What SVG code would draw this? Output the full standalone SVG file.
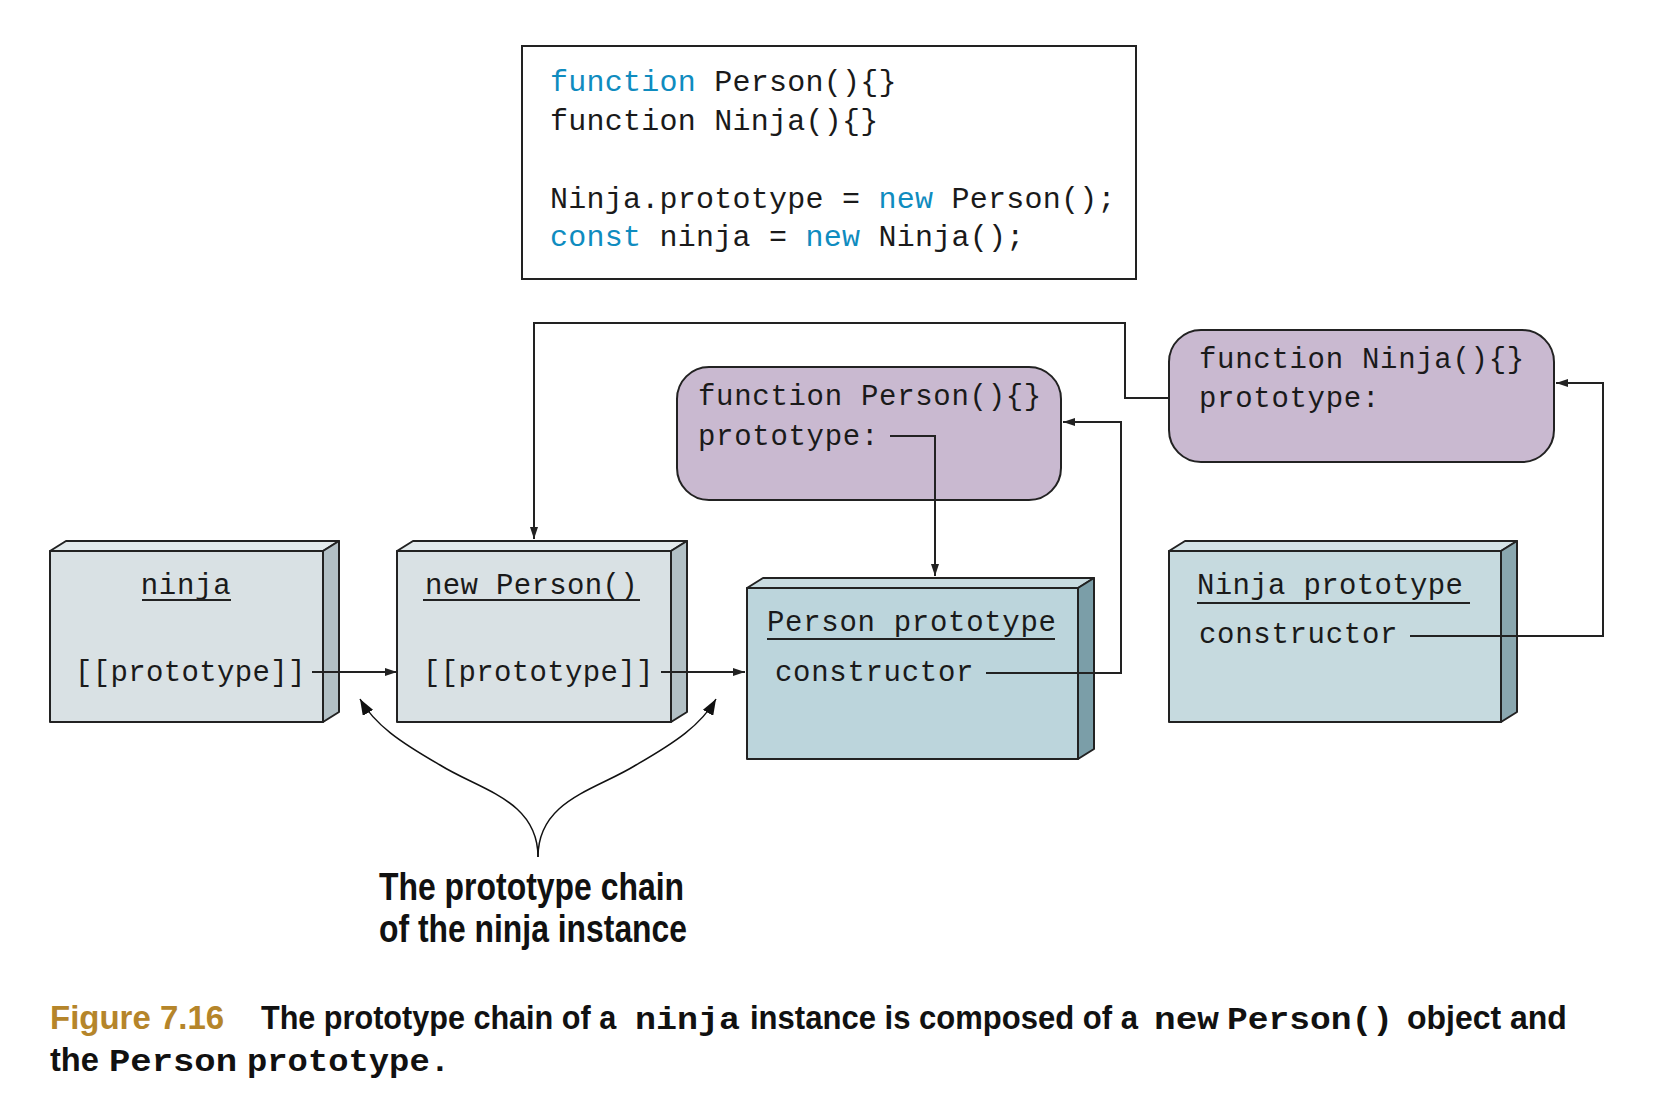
<svg xmlns="http://www.w3.org/2000/svg" width="1670" height="1096" viewBox="0 0 1670 1096">
<style>
.mono{font-family:"Liberation Mono","DejaVu Sans Mono",monospace;font-size:29px;letter-spacing:0.7px;fill:#1a1a1a}
.code{font-size:30px;letter-spacing:0.25px}
.br{letter-spacing:0.35px}
.kw{fill:#0f8cbf}
.ln{fill:none;stroke:#222;stroke-width:2}
.box{stroke:#222;stroke-width:2;stroke-linejoin:round}
.fn{fill:#c9b9d0;stroke:#222;stroke-width:2}
.cap{font-family:"Liberation Sans",Arial,sans-serif;font-weight:bold;font-size:34px;fill:#111}
.capm{font-family:"Liberation Mono",monospace;font-weight:bold;font-size:32px;fill:#111}
.lbl{font-family:"Liberation Sans",Arial,sans-serif;font-weight:bold;font-size:38px;fill:#111}
</style>
<defs>
<marker id="ah" viewBox="0 0 12 8" refX="12" refY="4" markerWidth="12" markerHeight="8" markerUnits="userSpaceOnUse" orient="auto">
<path d="M0,0 L12,4 L0,8 Z" fill="#222"/>
</marker>
<marker id="ah2" viewBox="0 0 16 12" refX="16" refY="6" markerWidth="16" markerHeight="12" markerUnits="userSpaceOnUse" orient="auto">
<path d="M0,0 L16,6 L0,12 Z" fill="#111"/>
</marker>
</defs>
<rect width="1670" height="1096" fill="#fff"/>

<g id="code">
<rect x="522" y="46" width="614" height="233" fill="#fff" stroke="#222" stroke-width="2"/>
<text class="mono code" x="550" y="91"><tspan class="kw">function</tspan> Person(){}</text>
<text class="mono code" x="550" y="130">function Ninja(){}</text>
<text class="mono code" x="550" y="208">Ninja.prototype = <tspan class="kw">new</tspan> Person();</text>
<text class="mono code" x="550" y="246"><tspan class="kw">const</tspan> ninja = <tspan class="kw">new</tspan> Ninja();</text>
</g>

<g id="ninja">
<polygon class="box" points="50,551 66,541 339,541 323,551" fill="#e3eaec"/>
<polygon class="box" points="323,551 339,541 339,712 323,722" fill="#b2c0c5"/>
<rect class="box" x="50" y="551" width="273" height="171" fill="#d9e1e4"/>
<text class="mono" x="186" y="594" text-anchor="middle">ninja</text>
<line x1="142" y1="600" x2="231" y2="600" stroke="#222" stroke-width="2"/>
<text class="mono br" x="75" y="681">[[prototype]]</text>
</g>

<g id="newPerson">
<polygon class="box" points="397,551 413,541 687,541 671,551" fill="#e3eaec"/>
<polygon class="box" points="671,551 687,541 687,712 671,722" fill="#b2c0c5"/>
<rect class="box" x="397" y="551" width="274" height="171" fill="#d9e1e4"/>
<text class="mono br" x="425" y="594">new Person()</text>
<line x1="423" y1="600" x2="640" y2="600" stroke="#222" stroke-width="2"/>
<text class="mono br" x="423" y="681">[[prototype]]</text>
</g>

<g id="personProto">
<polygon class="box" points="747,588 763,578 1094,578 1078,588" fill="#c8dbe0"/>
<polygon class="box" points="1078,588 1094,578 1094,749 1078,759" fill="#7b9ea8"/>
<rect class="box" x="747" y="588" width="331" height="171" fill="#bcd5dc"/>
<text class="mono" x="767" y="631">Person prototype</text>
<line x1="767" y1="639" x2="1055" y2="639" stroke="#222" stroke-width="2"/>
<text class="mono" x="775" y="681">constructor</text>
</g>

<g id="ninjaProto">
<polygon class="box" points="1169,551 1185,541 1517,541 1501,551" fill="#d4e3e7"/>
<polygon class="box" points="1501,551 1517,541 1517,712 1501,722" fill="#8aa7af"/>
<rect class="box" x="1169" y="551" width="332" height="171" fill="#c6dadf"/>
<text class="mono br" x="1197" y="594">Ninja prototype</text>
<line x1="1197" y1="603" x2="1470" y2="603" stroke="#222" stroke-width="2"/>
<text class="mono" x="1199" y="643">constructor</text>
</g>

<g id="personFn">
<rect class="fn" x="677" y="367" width="384" height="133" rx="32"/>
<text class="mono" x="698" y="405">function Person(){}</text>
<text class="mono" x="698" y="445">prototype:</text>
</g>

<g id="ninjaFn">
<rect class="fn" x="1169" y="330" width="385" height="132" rx="32"/>
<text class="mono" x="1199" y="368">function Ninja(){}</text>
<text class="mono" x="1199" y="407">prototype:</text>
</g>

<g id="connectors">
<line class="ln" x1="312" y1="672" x2="397" y2="672" marker-end="url(#ah)"/>
<line class="ln" x1="661" y1="672" x2="745" y2="672" marker-end="url(#ah)"/>
<polyline class="ln" points="890,436 935,436 935,576" marker-end="url(#ah)"/>
<polyline class="ln" points="986,673 1121,673 1121,422 1063,422" marker-end="url(#ah)"/>
<polyline class="ln" points="1410,636 1603,636 1603,383 1556,383" marker-end="url(#ah)"/>
<polyline class="ln" points="1169,398 1125,398 1125,323 534,323 534,539" marker-end="url(#ah)"/>
<path d="M538,857 C538,800 480,790 440,765 C400,742 375,725 360,699" fill="none" stroke="#111" stroke-width="1.5" marker-end="url(#ah2)"/>
<path d="M538,857 C538,800 596,790 636,765 C676,742 701,725 716,699" fill="none" stroke="#111" stroke-width="1.5" marker-end="url(#ah2)"/>
</g>

<g id="label">
<text class="lbl" x="379" y="900" textLength="305" lengthAdjust="spacingAndGlyphs">The prototype chain</text>
<text class="lbl" x="379" y="942" textLength="308" lengthAdjust="spacingAndGlyphs">of the ninja instance</text>
</g>

<g id="caption">
<text class="cap" transform="translate(50 1029) scale(0.97 1)" style="fill:#b5852a">Figure 7.16</text>
<text class="cap" transform="translate(261 1029) scale(0.9 1)">The prototype chain of a</text>
<text class="capm" x="635" y="1029" textLength="105" lengthAdjust="spacingAndGlyphs">ninja</text>
<text class="cap" transform="translate(750 1029) scale(0.913 1)">instance is composed of a</text>
<text class="capm" x="1154" y="1029" textLength="65" lengthAdjust="spacingAndGlyphs">new</text>
<text class="capm" x="1227" y="1029" textLength="166" lengthAdjust="spacingAndGlyphs">Person()</text>
<text class="cap" transform="translate(1407 1029) scale(0.94 1)">object and</text>
<text class="cap" transform="translate(50 1071) scale(0.96 1)">the</text>
<text class="capm" x="109" y="1071" textLength="128" lengthAdjust="spacingAndGlyphs">Person</text>
<text class="capm" x="247" y="1071" textLength="203" lengthAdjust="spacingAndGlyphs">prototype.</text>
</g>
</svg>
